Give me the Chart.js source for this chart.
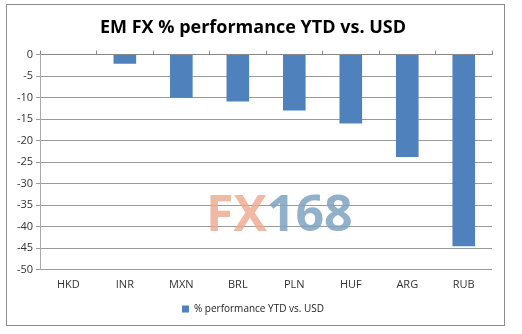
<!DOCTYPE html>
<html>
<head>
<meta charset="utf-8">
<script src="https://cdn.jsdelivr.net/npm/chart.js@4/dist/chart.umd.min.js"></script>
<style>
  body { margin: 0; background: #fff; }
  #frame {
    position: absolute; left: 6px; top: 4px;
    width: 499px; height: 322px;
    border: 1px solid #8c8c8c; box-sizing: border-box;
  }
  #frame canvas { display: block; }
</style>
</head>
<body>
<div id="frame"><canvas id="perfChart" width="497" height="320"></canvas></div>
<script>
const currencies = ['HKD', 'INR', 'MXN', 'BRL', 'PLN', 'HUF', 'ARG', 'RUB'];
const ytdPerformance = [0, -2.1, -10, -10.9, -13, -16, -23.8, -44.5];
const yTicks = [0, -5, -10, -15, -20, -25, -30, -35, -40, -45, -50];

const seriesName = '% performance YTD vs. USD';
const chartTitle = 'EM FX % performance YTD vs. USD';
const fontFamily = "'Open Sans', 'Liberation Sans', sans-serif";

// faint site logo behind the bars
const watermark = {
  id: 'watermark',
  beforeDatasetsDraw(chart) {
    const ctx = chart.ctx;
    ctx.save();
    ctx.font = "bold 50px 'Open Sans', sans-serif";
    ctx.textBaseline = 'middle';
    ctx.fillStyle = 'rgba(238, 168, 140, 0.8)';
    ctx.fillText('FX', 199, 212);
    const w = ctx.measureText('FX').width;
    ctx.fillStyle = 'rgba(125, 163, 192, 0.85)';
    ctx.fillText('168', 199 + w, 212);
    ctx.restore();
  }
};

new Chart(document.getElementById('perfChart'), {
  type: 'bar',
  data: {
    labels: currencies,
    datasets: [{
      label: seriesName,
      data: ytdPerformance,
      backgroundColor: '#4f81bd',
      barPercentage: 0.8,
      categoryPercentage: 0.5
    }]
  },
  options: {
    responsive: false,
    animation: false,
    devicePixelRatio: 1,
    layout: { padding: { left: 7, right: 12, top: 2, bottom: 1 } },
    plugins: {
      title: {
        display: true,
        text: chartTitle,
        color: '#000',
        font: { family: fontFamily, size: 18, weight: 'bold' },
        padding: { top: 10, bottom: 12 }
      },
      legend: {
        position: 'bottom',
        labels: {
          color: '#222',
          boxWidth: 7,
          boxHeight: 7,
          padding: 5,
          font: { family: fontFamily, size: 10 }
        }
      },
      tooltip: { enabled: false }
    },
    scales: {
      x: {
        grid: { display: false, drawTicks: false },
        border: { display: false },
        ticks: { color: '#333', padding: 8, font: { family: fontFamily, size: 11 } }
      },
      xTop: {
        position: 'top',
        type: 'category',
        labels: currencies,
        offset: true,
        grid: { offset: true, drawOnChartArea: false, tickLength: 4, color: '#888' },
        border: { color: '#888' },
        ticks: { display: false }
      },
      y: {
        min: -50,
        max: 0,
        afterBuildTicks: (axis) => { axis.ticks = yTicks.map(v => ({ value: v })); },
        grid: { color: '#9a9a9a', tickLength: 4 },
        border: { color: '#aaa' },
        ticks: { color: '#333', padding: 3, autoSkip: false, font: { family: fontFamily, size: 11 } }
      }
    }
  },
  plugins: [watermark]
});
</script>
</body>
</html>
